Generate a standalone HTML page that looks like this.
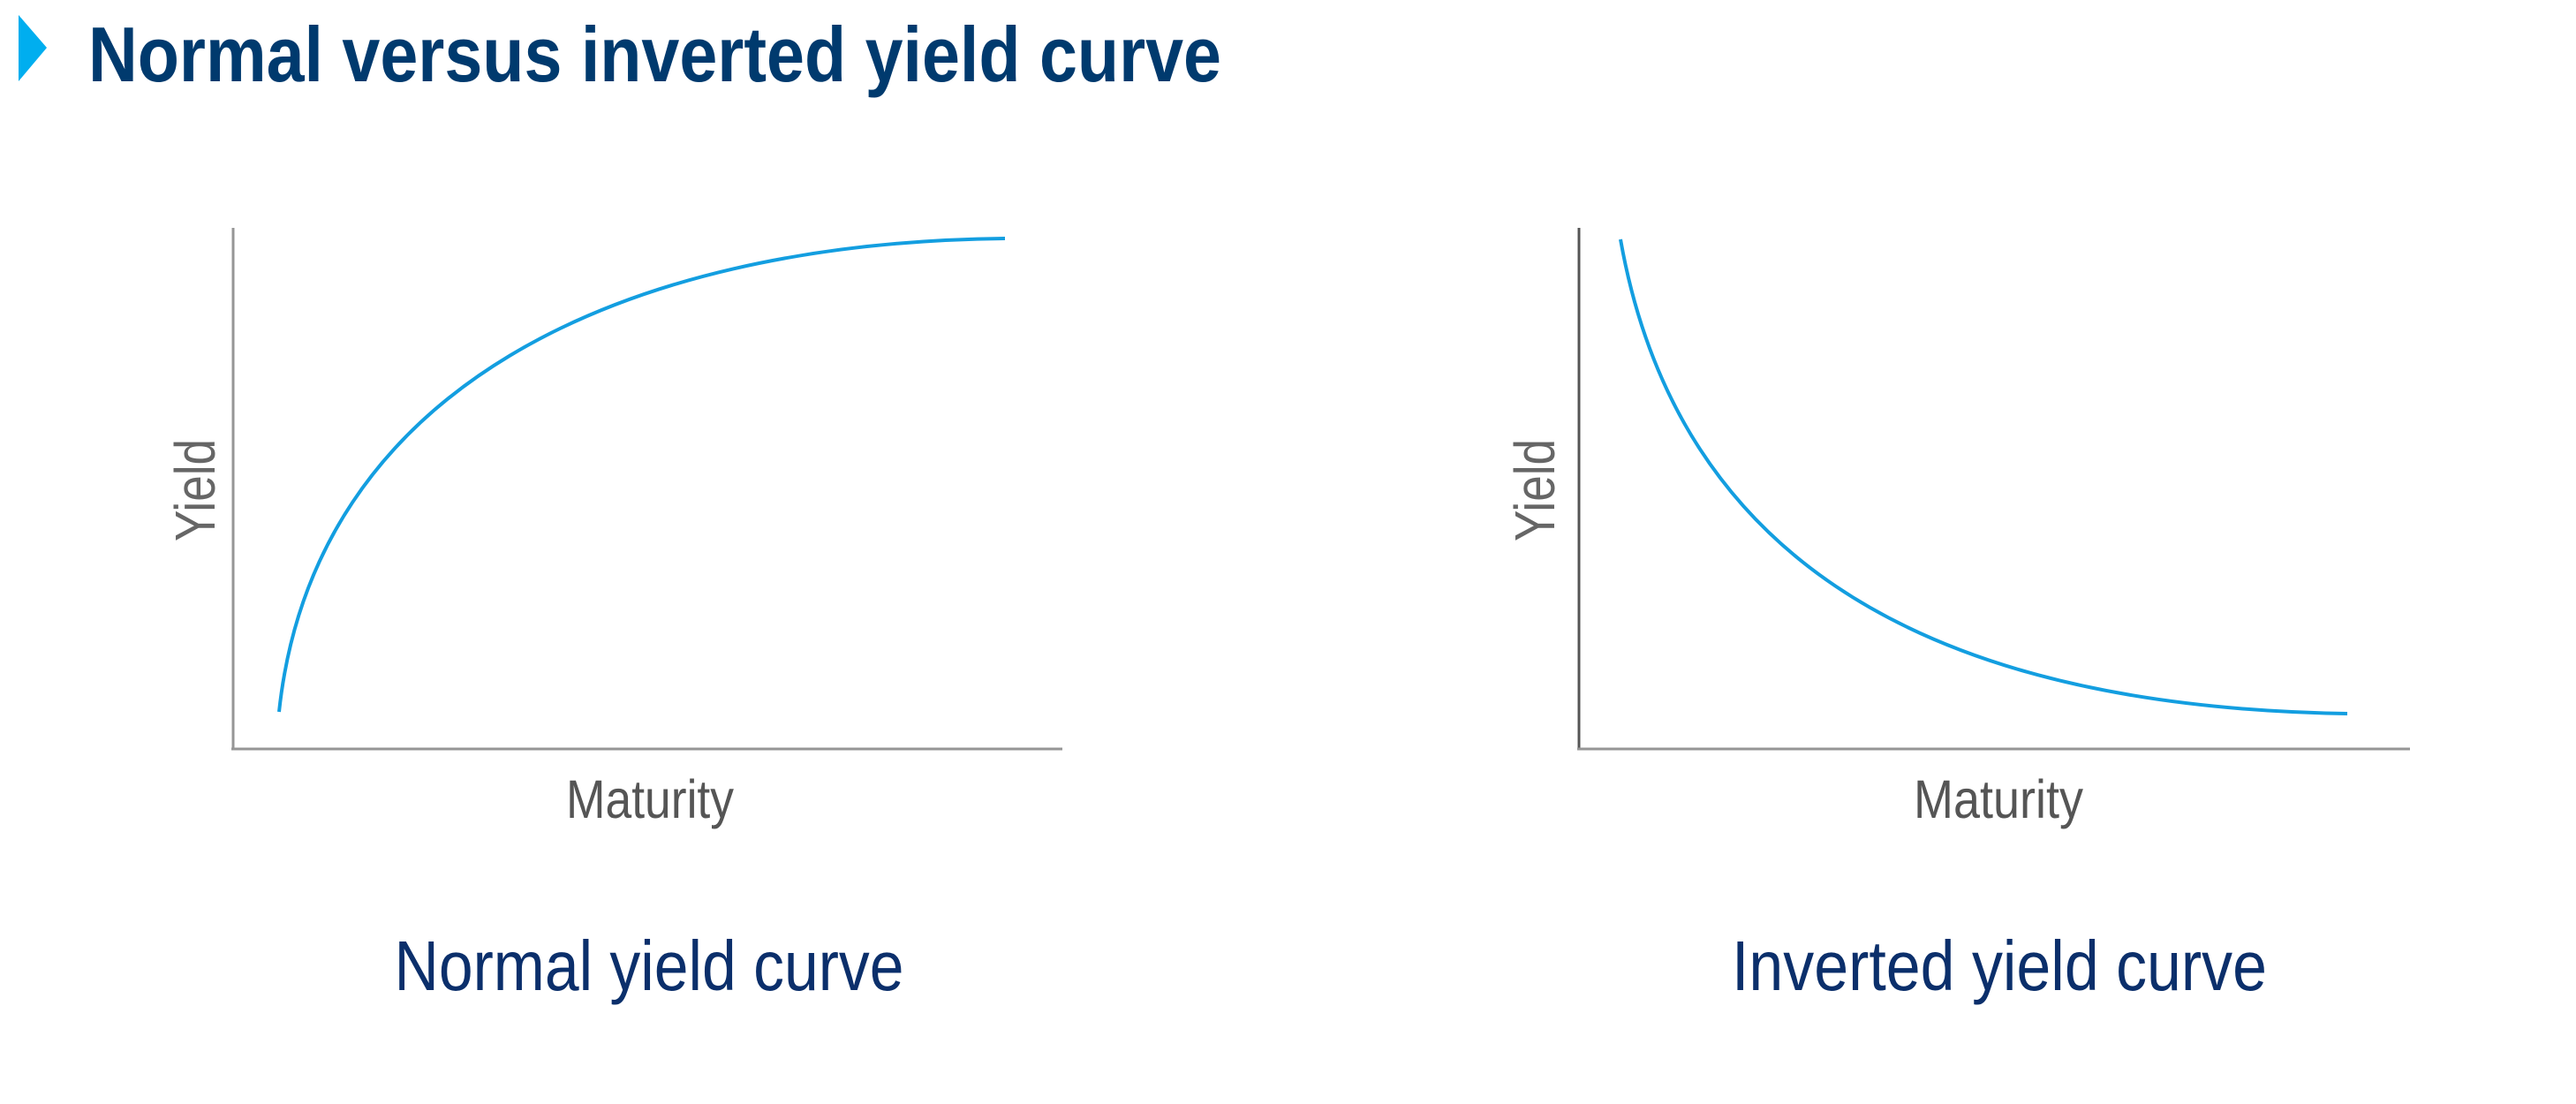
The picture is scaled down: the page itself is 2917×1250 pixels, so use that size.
<!DOCTYPE html>
<html><head><meta charset="utf-8"><style>
html,body{margin:0;padding:0;background:#fff;}
svg{display:block;}
text{font-family:"Liberation Sans Narrow","Liberation Sans",sans-serif;}
</style></head><body>
<svg width="2917" height="1250" viewBox="0 0 2917 1250" xmlns="http://www.w3.org/2000/svg">
<rect width="2917" height="1250" fill="#fff"/>
<polygon points="21,17 53,54 21,92" fill="#00aeef"/>
<text x="100" y="92" font-size="88" font-weight="bold" fill="#003a6e" textLength="1283" lengthAdjust="spacingAndGlyphs" style="font-family:'Liberation Sans',sans-serif">Normal versus inverted yield curve</text>

<!-- left chart -->
<line x1="264" y1="258" x2="264" y2="849" stroke="#969696" stroke-width="3"/>
<line x1="262" y1="848" x2="1203" y2="848" stroke="#969696" stroke-width="3"/>
<path d="M316,806 C355,440 700,275 1138,270" fill="none" stroke="#139ee0" stroke-width="4"/>
<text x="243" y="555" font-size="64" fill="#666" text-anchor="middle" transform="rotate(-90 243 555)" textLength="116" lengthAdjust="spacingAndGlyphs">Yield</text>
<text x="736" y="926" font-size="61" fill="#555" text-anchor="middle" textLength="190" lengthAdjust="spacingAndGlyphs">Maturity</text>
<text x="735" y="1121" font-size="80" fill="#0b2f6b" text-anchor="middle" textLength="577" lengthAdjust="spacingAndGlyphs">Normal yield curve</text>

<!-- right chart -->
<line x1="1788" y1="258" x2="1788" y2="849" stroke="#555" stroke-width="3"/>
<line x1="1786" y1="848" x2="2729" y2="848" stroke="#969696" stroke-width="3"/>
<path d="M1835,271 C1895,610 2150,800 2658,808" fill="none" stroke="#139ee0" stroke-width="4"/>
<text x="1760" y="555" font-size="64" fill="#666" text-anchor="middle" transform="rotate(-90 1760 555)" textLength="116" lengthAdjust="spacingAndGlyphs">Yield</text>
<text x="2263" y="926" font-size="61" fill="#555" text-anchor="middle" textLength="192" lengthAdjust="spacingAndGlyphs">Maturity</text>
<text x="2264" y="1121" font-size="80" fill="#0b2f6b" text-anchor="middle" textLength="606" lengthAdjust="spacingAndGlyphs">Inverted yield curve</text>
</svg>
</body></html>
